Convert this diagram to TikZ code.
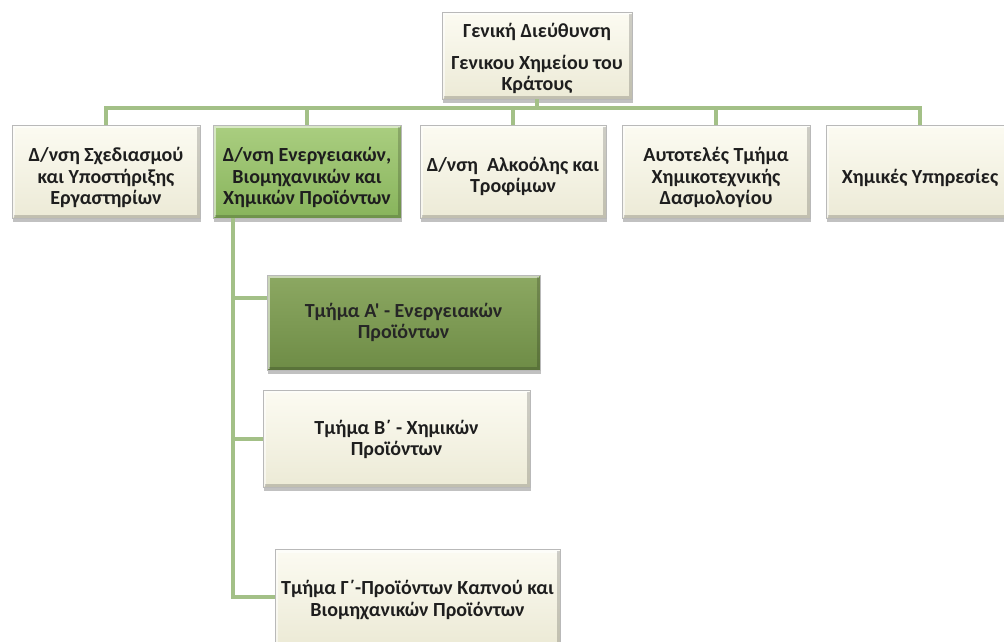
\documentclass[tikz,border=0pt]{standalone}
\usepackage{fontspec}
\newfontfamily\carl{Carlito}
\usetikzlibrary{shadows,calc}
\definecolor{linegreen}{RGB}{163,192,135}
\definecolor{creamtop}{RGB}{252,251,242}
\definecolor{creambot}{RGB}{236,234,214}
\definecolor{greentop}{RGB}{170,206,128}
\definecolor{greenbot}{RGB}{136,180,92}
\definecolor{darktop}{RGB}{140,168,98}
\definecolor{darkbot}{RGB}{110,140,70}
\definecolor{txt}{RGB}{30,30,30}
\tikzset{
  box/.style={rectangle, draw=gray!55, line width=0.8pt, inner sep=0pt,
    drop shadow={shadow xshift=1pt, shadow yshift=-4pt, opacity=0.4, fill=black!60},
    path picture={
      \draw[white, opacity=0.55, line width=3pt]
        ([shift={(1.5pt,1.5pt)}]path picture bounding box.south west) --
        ([shift={(1.5pt,-1.5pt)}]path picture bounding box.north west) --
        ([shift={(-1.5pt,-1.5pt)}]path picture bounding box.north east);
      \draw[black, opacity=0.18, line width=3pt]
        ([shift={(-1.5pt,-1.5pt)}]path picture bounding box.north east) --
        ([shift={(-1.5pt,1.5pt)}]path picture bounding box.south east) --
        ([shift={(1.5pt,1.5pt)}]path picture bounding box.south west);
    }},
  cream/.style={box, top color=creamtop, bottom color=creambot},
  lgreen/.style={box, top color=greentop, bottom color=greenbot},
  dgreen/.style={box, top color=darktop, bottom color=darkbot},
  lbl/.style={align=center, inner sep=0pt, text=txt,
    font=\carl\bfseries\fontsize{20}{21.3}\selectfont},
  conn/.style={draw=linegreen, line width=4pt}
}
\begin{document}
\begin{tikzpicture}[x=1pt,y=1pt]
\useasboundingbox (0,0) rectangle (1004,-641);
\fill[white] (0,0) rectangle (1004,-641);
\coordinate (bar) at (0,-108);
\coordinate (spine) at (233,0);
% boxes
\node[cream, minimum width=190, minimum height=87] (top) at (537,-55.5) {};
\node[cream, minimum width=188, minimum height=93] (b1) at (106,-171.5) {};
\node[lgreen, minimum width=188, minimum height=93] (b2) at (307,-171.5) {};
\node[cream, minimum width=186, minimum height=93] (b3) at (513,-171.5) {};
\node[cream, minimum width=188, minimum height=93] (b4) at (716,-171.5) {};
\node[cream, minimum width=188, minimum height=93] (b5) at (920,-171.5) {};
\node[dgreen, minimum width=273, minimum height=95] (A) at (403.5,-322.5) {};
\node[cream, minimum width=267, minimum height=97] (B) at (396.5,-438.5) {};
\node[cream, minimum width=285, minimum height=95] (G) at (417.5,-597) {};
% texts
\node[lbl] (topt) at ([yshift=-3pt]top.center)
  {Γενική Διεύθυνση\\[11pt]Γενικου Χημείου του\\Κράτους};
\node[lbl] (b1t) at ([yshift=-6pt]b1.center)
  {Δ/νση Σχεδιασμού\\και Υποστήριξης\\Εργαστηρίων};
\node[lbl] (b2t) at ([yshift=-6pt]b2.center)
  {Δ/νση Ενεργειακών,\\Βιομηχανικών και\\Χημικών Προϊόντων};
\node[lbl] (b3t) at ([yshift=-5pt]b3.center)
  {Δ/νση\ \ Αλκοόλης και\\Τροφίμων};
\node[lbl] (b4t) at ([yshift=-6pt]b4.center)
  {Αυτοτελές Τμήμα\\Χημικοτεχνικής\\Δασμολογίου};
\node[lbl] (b5t) at ([yshift=-6pt]b5.center)
  {Χημικές Υπηρεσίες};
\node[lbl, text=black!85] (At) at ([yshift=0pt]A.center)
  {Τμήμα Α' - Ενεργειακών\\Προϊόντων};
\node[lbl] (Bt) at ([yshift=-1pt]B.center)
  {Τμήμα Β΄ - Χημικών\\Προϊόντων};
\node[lbl] (Gt) at ([yshift=-3pt]G.center)
  {Τμήμα Γ΄-Προϊόντων Καπνού και\\Βιομηχανικών Προϊόντων};
\coordinate (Ain) at ([yshift=25pt]A.west);
% connectors
\draw[conn] (top.south) -- (top.south |- bar);
\draw[conn] (b1.north) -- (b1.north |- bar) -- (b5.north |- bar) -- (b5.north);
\draw[conn] (b2.north) -- (b2.north |- bar);
\draw[conn] (b3.north) -- (b3.north |- bar);
\draw[conn] (b4.north) -- (b4.north |- bar);
\draw[conn] (b2.south -| spine) -- (spine |- G.west) -- (G.west);
\draw[conn] (spine |- Ain) -- (Ain);
\draw[conn] (spine |- B.west) -- (B.west);
\end{tikzpicture}
\end{document}
